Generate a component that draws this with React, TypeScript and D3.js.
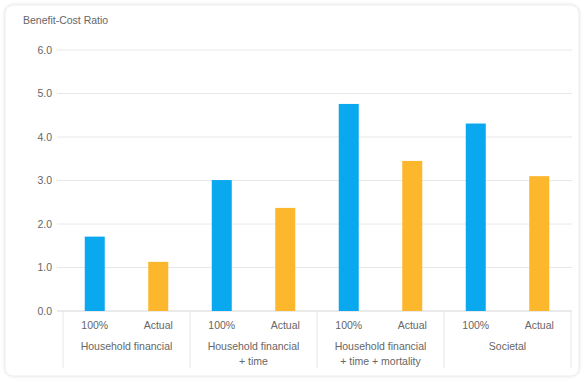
import React from "react";
import * as d3 from "d3";

const groups = ["Household financial", "Household financial\n+ time", "Household financial\n+ time + mortality", "Societal"];
const subLabels = ["100%", "Actual"];
const fullValues = [1.71, 3.01, 4.76, 4.31];
const actualValues = [1.13, 2.37, 3.45, 3.1];
const yTicks = [0, 1, 2, 3, 4, 5, 6];
const colors = ["#0AA8EE", "#FDB72D"];

const W = 584, H = 382;
const m = { left: 63, right: 571, top: 50, bottom: 311 };

export default function App() {
  const y = d3.scaleLinear().domain([0, 6]).range([m.bottom, m.top]);
  const x0 = d3.scaleBand().domain(groups).range([m.left, m.right]).paddingInner(0).paddingOuter(0);
  const x1 = d3.scaleBand().domain(subLabels).range([0, x0.bandwidth()]).paddingInner(0).paddingOuter(0);
  const barW = 20;
  const series = [fullValues, actualValues];
  const font = "'Liberation Sans', Arial, sans-serif";
  return (
    <svg width={W} height={H} style={{ position: "absolute", left: 0, top: 0 }}>
      <defs>
        <filter id="sh" x="-5%" y="-5%" width="110%" height="110%">
          <feDropShadow dx="0" dy="0" stdDeviation="1.5" floodColor="#000" floodOpacity="0.12" />
        </filter>
      </defs>
      <rect x={5} y={5} width={574} height={371} rx={8} fill="#fff" stroke="#ececec" filter="url(#sh)" />
      <text x={23} y={24} fontFamily={font} fontSize={10.5} fill="#666">Benefit-Cost Ratio</text>
      {yTicks.map((t) => (
        <g key={t}>
          <line x1={m.left - 6} x2={m.right + 1} y1={y(t)} y2={y(t)} stroke={t === 0 ? "#d6d6d6" : "#e8e8e8"} />
          <text x={52} y={y(t) + 3.5} textAnchor="end" fontFamily={font} fontSize={10.5} fill="#666">{t.toFixed(1)}</text>
        </g>
      ))}
      {[...groups.map((g) => x0(g)!), m.right].map((xx, i) => (
        <line key={i} x1={xx} x2={xx} y1={m.bottom} y2={368} stroke="#e6e6e6" />
      ))}
      {groups.map((g, gi) => (
        <g key={g}>
          {subLabels.map((s, si) => {
            const cx = x0(g)! + x1(s)! + x1.bandwidth() / 2;
            const v = series[si][gi];
            return (
              <g key={s}>
                <rect x={cx - barW / 2} y={y(v)} width={barW} height={y(0) - y(v)} fill={colors[si]} />
                <text x={cx} y={329} textAnchor="middle" fontFamily={font} fontSize={10.5} fill="#666">{s}</text>
              </g>
            );
          })}
          {g.split("\n").map((line, li) => (
            <text key={li} x={x0(g)! + x0.bandwidth() / 2} y={350 + li * 15} textAnchor="middle" fontFamily={font} fontSize={10.5} fill="#666">{line}</text>
          ))}
        </g>
      ))}
    </svg>
  );
}
